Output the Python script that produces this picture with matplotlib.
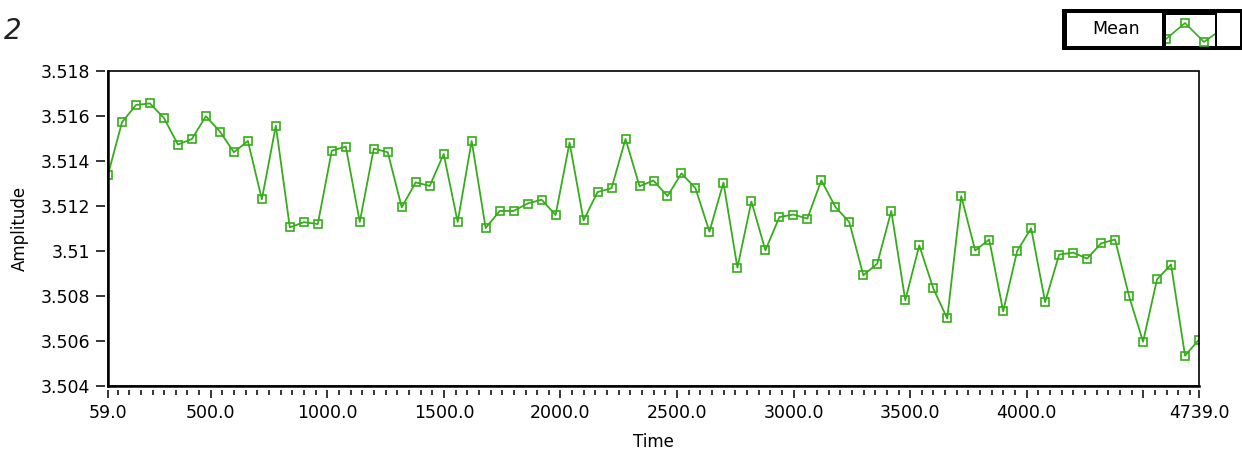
import numpy as np
import matplotlib
matplotlib.use("Agg")
import matplotlib.pyplot as plt
from matplotlib.patches import Rectangle
from matplotlib.lines import Line2D
from matplotlib.ticker import FixedLocator, MultipleLocator, FuncFormatter

# waveform: start time, sample interval and the averaged amplitude per block
t0 = 59.0
dt = 60.0
mean = [
    3.51340, 3.51572, 3.51649, 3.51656, 3.51591, 3.51473, 3.51498, 3.51599,
    3.51531, 3.51439, 3.51489, 3.51230, 3.51557, 3.51105, 3.51128, 3.51120,
    3.51446, 3.51464, 3.51129, 3.51455, 3.51439, 3.51194, 3.51305, 3.51289,
    3.51431, 3.51129, 3.51489, 3.51102, 3.51178, 3.51178, 3.51211, 3.51228,
    3.51160, 3.51482, 3.51136, 3.51262, 3.51279, 3.51498, 3.51288, 3.51313,
    3.51244, 3.51345, 3.51279, 3.51086, 3.51304, 3.50926, 3.51220, 3.51003,
    3.51151, 3.51162, 3.51144, 3.51314, 3.51196, 3.51128, 3.50892, 3.50944,
    3.51178, 3.50781, 3.51025, 3.50834, 3.50700, 3.51244, 3.51002, 3.51051,
    3.50732, 3.51000, 3.51101, 3.50773, 3.50984, 3.50993, 3.50966, 3.51034,
    3.51051, 3.50799, 3.50597, 3.50874, 3.50940, 3.50535, 3.50606,
]
time = t0 + dt * np.arange(len(mean))

x_major = [59, 500, 1000, 1500, 2000, 2500, 3000, 3500, 4000, 4500, 4739]
x_labels = ["59.0", "500.0", "1000.0", "1500.0", "2000.0", "2500.0",
            "3000.0", "3500.0", "4000.0", "", "4739.0"]
y_ticks = [3.504, 3.506, 3.508, 3.510, 3.512, 3.514, 3.516, 3.518]

green = "#36ad1a"
W, H = 1242, 451


def frac(x0, y0, x1, y1):
    return [x0 / W, 1 - y1 / H, (x1 - x0) / W, (y1 - y0) / H]


plt.rcParams["font.family"] = "DejaVu Sans"
fig = plt.figure(figsize=(W / 100, H / 100), dpi=100, facecolor="white")

ax = fig.add_axes(frac(108, 71, 1199, 386))
ax.plot(time, mean, color=green, lw=1.3, marker="s", ms=6,
        mfc="none", mec=green, mew=1.2)
ax.set_xlim(59, 4739)
ax.set_ylim(3.504, 3.518)

# frame drawn by hand so the ticks can sit a little away from it
for s in ax.spines.values():
    s.set_visible(False)
ax.spines["bottom"].set_position(("outward", 3))
ax.spines["left"].set_position(("outward", 2))
ax.add_patch(Rectangle((0, 0), 1, 1, transform=ax.transAxes, fill=False,
                       ec="black", lw=1.2, clip_on=False, zorder=5))
ax.add_line(Line2D([0, 0], [0, 1], transform=ax.transAxes, color="black",
                   lw=1.8, clip_on=False, zorder=5))
ax.add_line(Line2D([0, 1], [0, 0], transform=ax.transAxes, color="black",
                   lw=1.8, clip_on=False, zorder=5))

ax.xaxis.set_major_locator(FixedLocator(x_major))
ax.set_xticklabels(x_labels)
ax.xaxis.set_minor_locator(MultipleLocator(50))
ax.yaxis.set_major_locator(FixedLocator(y_ticks))
ax.yaxis.set_major_formatter(FuncFormatter(lambda v, _: f"{v:.3f}".rstrip("0")))

ax.tick_params(axis="x", which="major", direction="out", length=6, width=1.1,
               pad=4, labelsize=12.5, colors="black")
ax.tick_params(axis="x", which="minor", direction="out", length=3.6, width=1.1)
ax.tick_params(axis="y", which="major", direction="out", length=6.5, width=1.1,
               pad=4.5, labelsize=12.5, colors="black")

ax.set_xlabel("Time", fontsize=12, labelpad=8)
ax.set_ylabel("Amplitude", fontsize=12, labelpad=8)

# graph caption
fig.text(13 / W, 1 - 31 / H, "2", fontsize=20, style="italic",
         ha="center", va="center", color="#222222")

# plot legend box
lax = fig.add_axes(frac(1062, 9, 1242, 50))
lax.set_xlim(0, 180)
lax.set_ylim(41, 0)
lax.axis("off")
lax.add_patch(Rectangle((0, 0), 180, 41, fc="black", ec="none"))
lax.add_patch(Rectangle((5, 4), 95, 33, fc="white", ec="none"))
swatch = Rectangle((104, 6), 49, 31, fc="white", ec="none")
lax.add_patch(swatch)
lax.add_patch(Rectangle((155, 4), 23, 33, fc="white", ec="none"))
lax.text(54, 20, "Mean", fontsize=12.5, ha="center", va="center")
glyph_x = [104, 123, 142, 153]
glyph_y = [30, 14, 33, 25]
glyph_line, = lax.plot(glyph_x, glyph_y, color=green, lw=1.2)
glyph_marks, = lax.plot(glyph_x[:3], glyph_y[:3], ls="none", marker="s",
                        ms=5.5, mfc="none", mec=green, mew=1.2)
glyph_line.set_clip_path(swatch)
glyph_marks.set_clip_path(swatch)

fig.savefig("out.png", dpi=100, facecolor="white")
